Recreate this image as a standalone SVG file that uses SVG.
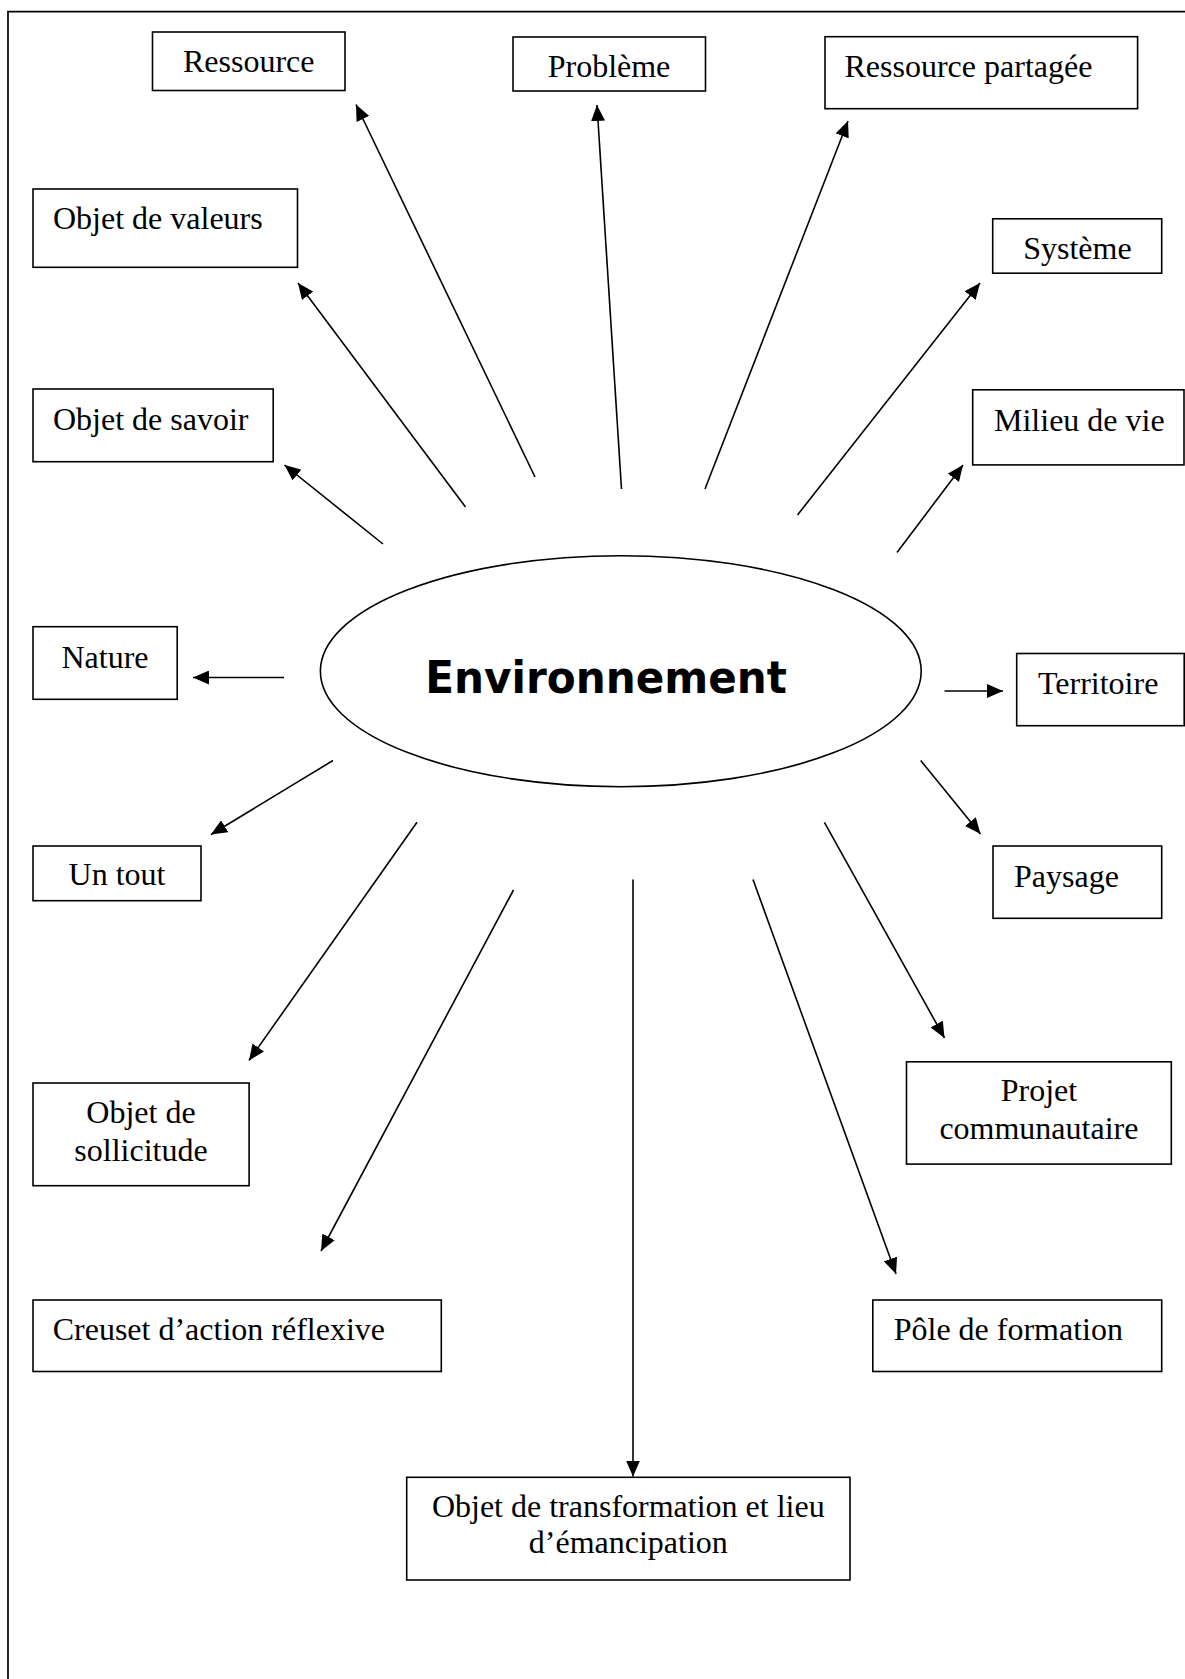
<svg xmlns="http://www.w3.org/2000/svg" width="1185" height="1679" viewBox="0 0 1185 1679">
<defs>
<style>
.box{fill:#fff;stroke:#000;stroke-width:1.6}
.t{font-family:"Liberation Serif","Times New Roman",serif;font-size:32px;fill:#000}
.c{text-anchor:middle}
.ln{stroke:#000;stroke-width:1.6;fill:none;marker-end:url(#arr)}
</style>
<marker id="arr" viewBox="0 0 16 14" markerWidth="16" markerHeight="14" refX="16" refY="7" markerUnits="userSpaceOnUse" orient="auto">
<path d="M0,0 L16,7 L0,14 z" fill="#000"/>
</marker>
</defs>
<rect width="1185" height="1679" fill="#fff"/>
<path d="M8 1679 V11.7 H1185" fill="none" stroke="#000" stroke-width="1.7"/>

<g id="connectors">
<line class="ln" x1="383" y1="544" x2="284.5" y2="465"/>
<line class="ln" x1="465.5" y1="507" x2="298" y2="283"/>
<line class="ln" x1="535" y1="477" x2="356" y2="104.5"/>
<line class="ln" x1="621.5" y1="489" x2="597" y2="105"/>
<line class="ln" x1="705" y1="489" x2="848" y2="121"/>
<line class="ln" x1="797.5" y1="515" x2="980" y2="283"/>
<line class="ln" x1="897" y1="552.5" x2="963" y2="465"/>
<line class="ln" x1="284" y1="677.5" x2="193" y2="677.5"/>
<line class="ln" x1="944.5" y1="691" x2="1003" y2="691"/>
<line class="ln" x1="920.7" y1="760.5" x2="980.5" y2="834"/>
<line class="ln" x1="824.4" y1="822.3" x2="944.5" y2="1038"/>
<line class="ln" x1="753" y1="879.5" x2="896" y2="1274"/>
<line class="ln" x1="633" y1="879.5" x2="633" y2="1476.5"/>
<line class="ln" x1="513.5" y1="890" x2="321" y2="1251"/>
<line class="ln" x1="417" y1="822.3" x2="249" y2="1060.5"/>
<line class="ln" x1="333" y1="760.5" x2="211" y2="834.5"/>
</g>

<g id="environnement">
<ellipse cx="620.8" cy="671.2" rx="300.4" ry="115.5" fill="#fff" stroke="#000" stroke-width="1.6"/>
<text x="425.3" y="692.7" font-family="'DejaVu Sans',Verdana,sans-serif" font-weight="bold" font-size="45" textLength="361.6" lengthAdjust="spacingAndGlyphs">Environnement</text>
</g>

<g id="ressource">
<rect class="box" x="152.5" y="32" width="192.5" height="58.5"/>
<text class="t c" x="248.7" y="71.7">Ressource</text>
</g>
<g id="probleme">
<rect class="box" x="513" y="37" width="192.5" height="54"/>
<text class="t c" x="609" y="76.5">Problème</text>
</g>
<g id="ressource-partagee">
<rect class="box" x="825" y="36.7" width="312.6" height="72"/>
<text class="t" x="844.5" y="77.3">Ressource partagée</text>
</g>
<g id="objet-valeurs">
<rect class="box" x="33" y="189" width="264.5" height="78.3"/>
<text class="t" x="53" y="229.3">Objet de valeurs</text>
</g>
<g id="systeme">
<rect class="box" x="992.7" y="218.8" width="169" height="54.4"/>
<text class="t c" x="1077.4" y="258.8">Système</text>
</g>
<g id="objet-savoir">
<rect class="box" x="33" y="389" width="240.2" height="72.7"/>
<text class="t" x="53" y="430">Objet de savoir</text>
</g>
<g id="milieu-vie">
<rect class="box" x="972.7" y="389.8" width="211.3" height="75.1"/>
<text class="t" x="994" y="430.8">Milieu de vie</text>
</g>
<g id="nature">
<rect class="box" x="33" y="626.7" width="144.2" height="72.6"/>
<text class="t c" x="105" y="668.3">Nature</text>
</g>
<g id="territoire">
<rect class="box" x="1016.7" y="653.5" width="167.5" height="72.2"/>
<text class="t" x="1038" y="693.5">Territoire</text>
</g>
<g id="un-tout">
<rect class="box" x="33" y="846" width="168" height="54.7"/>
<text class="t c" x="117" y="885">Un tout</text>
</g>
<g id="paysage">
<rect class="box" x="993" y="846" width="168.7" height="72.3"/>
<text class="t" x="1014" y="886.7">Paysage</text>
</g>
<g id="objet-sollicitude">
<rect class="box" x="33" y="1083" width="216.1" height="102.7"/>
<text class="t c" x="141" y="1123">Objet de</text>
<text class="t c" x="141" y="1160.5">sollicitude</text>
</g>
<g id="projet-communautaire">
<rect class="box" x="906.5" y="1061.8" width="264.8" height="102.3"/>
<text class="t c" x="1038.9" y="1100.5">Projet</text>
<text class="t c" x="1038.9" y="1139">communautaire</text>
</g>
<g id="creuset">
<rect class="box" x="33" y="1300" width="408.3" height="71.5"/>
<text class="t" x="52.7" y="1339.5">Creuset d’action réflexive</text>
</g>
<g id="pole-formation">
<rect class="box" x="872.8" y="1300" width="288.9" height="71.5"/>
<text class="t" x="893.7" y="1339.5">Pôle de formation</text>
</g>
<g id="objet-transformation">
<rect class="box" x="406.7" y="1477.3" width="443.3" height="102.7"/>
<text class="t c" x="628.3" y="1517.3">Objet de transformation et lieu</text>
<text class="t c" x="628.3" y="1553.3">d’émancipation</text>
</g>
</svg>
